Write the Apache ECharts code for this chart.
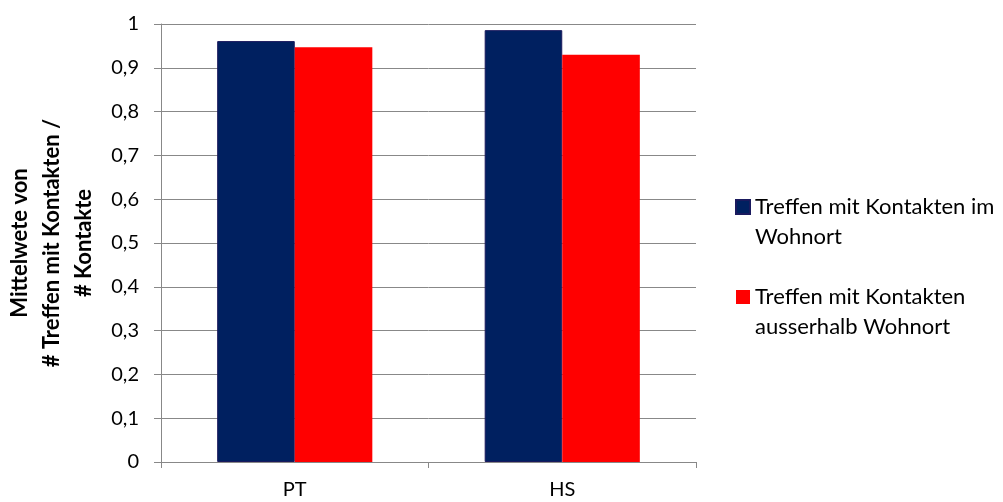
<!DOCTYPE html>
<html>
<head>
<meta charset="utf-8">
<script src="https://cdn.jsdelivr.net/npm/echarts@6/dist/echarts.min.js"></script>
<style>
  html, body { margin: 0; padding: 0; background: #fff; }
  #chart { width: 1003px; height: 502px; }
</style>
</head>
<body>
<div id="chart"></div>
<script>
// Categories and series values
var categories = ['PT', 'HS'];
var seriesNames = ['Treffen mit Kontakten im\nWohnort', 'Treffen mit Kontakten\nausserhalb Wohnort'];
var inHome = [0.961, 0.986];
var outsideHome = [0.947, 0.930];
var yTicks = [0, 0.1, 0.2, 0.3, 0.4, 0.5, 0.6, 0.7, 0.8, 0.9, 1];
var yAxisTitle = 'Mittelwete von\n# Treffen mit Kontakten /\n# Kontakte';

var font = 'Lato, "Open Sans", sans-serif';
var chart = echarts.init(document.getElementById('chart'), null, { renderer: 'canvas' });

chart.setOption({
  animation: false,
  backgroundColor: '#ffffff',
  grid: { left: 161, right: 307, top: 24, bottom: 40, containLabel: false, outerBoundsMode: 'none' },
  legend: {
    orient: 'vertical',
    left: 730,
    top: 157,
    itemWidth: 14,
    itemHeight: 14,
    itemGap: 0,
    icon: 'rect',
    // leading blank line keeps the swatch level with the first text line
    formatter: function (name) { return '\u00a0\n' + name; },
    textStyle: {
      fontFamily: font,
      fontSize: 22,
      color: '#000',
      lineHeight: 30
    },
    data: seriesNames
  },
  xAxis: {
    type: 'category',
    data: categories,
    axisLine: { lineStyle: { color: '#888', width: 1 } },
    axisTick: { show: true, length: 6, lineStyle: { color: '#888' }, alignWithLabel: false },
    axisLabel: { fontFamily: font, fontSize: 20, color: '#000', margin: 18 }
  },
  yAxis: {
    type: 'value',
    min: 0,
    max: 1,
    interval: 0.1,
    name: yAxisTitle,
    nameLocation: 'middle',
    nameRotate: 90,
    nameGap: 60,
    nameTextStyle: { fontFamily: font, fontSize: 22, fontWeight: 'bold', color: '#000', lineHeight: 32 },
    axisLine: { show: true, lineStyle: { color: '#888', width: 1 } },
    axisTick: { show: true, length: 7, lineStyle: { color: '#888' } },
    splitLine: { show: true, lineStyle: { color: '#888', width: 1 } },
    axisLabel: {
      fontFamily: font, fontSize: 20, color: '#000', margin: 22,
      formatter: function (v) {
        var t = yTicks.find(function (k) { return Math.abs(k - v) < 1e-9; });
        return t === undefined ? '' : String(Math.round(t * 10) / 10).replace('.', ',');
      }
    }
  },
  series: [
    {
      name: seriesNames[0],
      type: 'bar',
      data: inHome,
      barGap: '0%',
      barCategoryGap: '42%',
      itemStyle: { color: '#002060', borderColor: '#1a1a5e', borderWidth: 1 }
    },
    {
      name: seriesNames[1],
      type: 'bar',
      data: outsideHome,
      barGap: '0%',
      barCategoryGap: '42%',
      itemStyle: { color: '#ff0000' }
    }
  ]
});
</script>
</body>
</html>
